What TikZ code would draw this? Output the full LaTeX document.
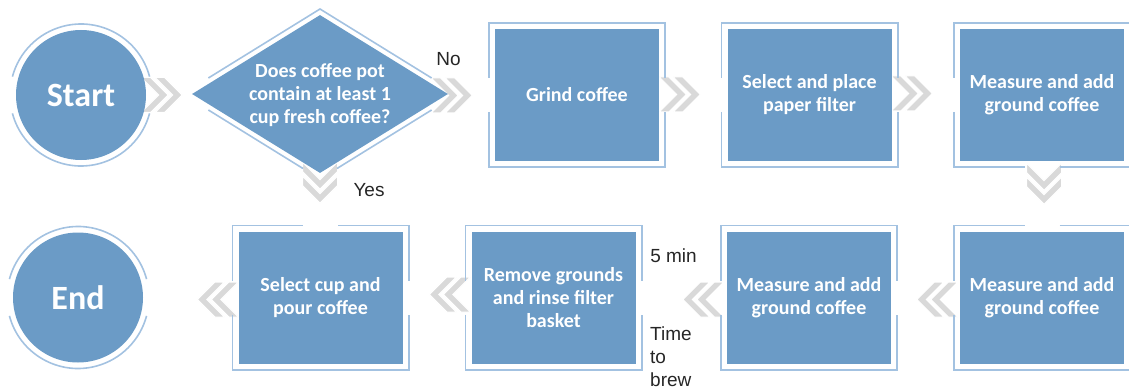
\documentclass[tikz,border=0pt]{standalone}
\usepackage{fontspec}
\setmainfont{Liberation Sans}
\newfontfamily\boxfont{Carlito}
\usetikzlibrary{shapes.geometric,calc}
\pgfdeclarelayer{bg}
\pgfsetlayers{bg,main}

\definecolor{stepblue}{RGB}{107,155,198}
\definecolor{rimblue}{RGB}{163,194,225}
\definecolor{chevgray}{RGB}{217,217,217}
\definecolor{labelgray}{RGB}{38,38,38}

\tikzset{
  stepbox/.style={rectangle, fill=stepblue, minimum width=164pt, minimum height=132pt,
    inner sep=0pt, text width=156pt, align=flush center, text=white,
    font=\boxfont\bfseries\fontsize{20}{23}\selectfont},
  termnode/.style={circle, fill=stepblue, minimum size=130pt, inner sep=0pt, text=white,
    font=\boxfont\bfseries\fontsize{34}{40}\selectfont},
  decision/.style={diamond, fill=stepblue, minimum width=256pt, minimum height=158pt, inner sep=0pt},
  decisiontext/.style={align=flush center, text=white, inner sep=0pt,
    font=\boxfont\bfseries\fontsize{20}{23}\selectfont},
  rim/.style={draw=rimblue, line width=1.6pt},
  chev/.style={fill=chevgray, draw=white, line width=1pt, line join=miter},
  tag/.style={text=labelgray, inner sep=0pt, font=\fontsize{19}{23}\selectfont},
  chevpair/.pic={
    \foreach \dx in {0,14}{
      \path[chev] (\dx,17.5) -- ++(9.5,0) -- ++(17.5,-17.5) -- ++(-17.5,-17.5)
        -- ++(-9.5,0) -- ++(17.5,17.5) -- cycle;
    }
  },
}

% light outer frame of a step box, open at the sides (and optionally top/bottom)
\newcommand\steprim[3]{%
  \ifnum#2=0
    \draw[rim] ([shift={(-6,17)}]#1.west) |- ([shift={(6,6)}]#1.north east) -- ([shift={(6,17)}]#1.east);
  \else
    \draw[rim] ([shift={(-6,17)}]#1.west) |- ([shift={(-17.5,6)}]#1.north);
    \draw[rim] ([shift={(17.5,6)}]#1.north) -| ([shift={(6,17)}]#1.east);
  \fi
  \ifnum#3=0
    \draw[rim] ([shift={(-6,-17)}]#1.west) |- ([shift={(6,-6)}]#1.south east) -- ([shift={(6,-17)}]#1.east);
  \else
    \draw[rim] ([shift={(-6,-17)}]#1.west) |- ([shift={(-17.5,-6)}]#1.south);
    \draw[rim] ([shift={(17.5,-6)}]#1.south) -| ([shift={(6,-17)}]#1.east);
  \fi
}

% ring around a terminal node, open left and right
\newcommand\termrim[1]{%
  \draw[rim] ([shift={(15:71pt)}]#1.center) arc[start angle=15, end angle=165, radius=71pt];
  \draw[rim] ([shift={(195:71pt)}]#1.center) arc[start angle=195, end angle=345, radius=71pt];
}

\begin{document}
\begin{tikzpicture}[x=1pt, y=1pt]
\useasboundingbox (0,0) rectangle (1129,389);

% first row
\node[termnode] (start) at (81,294) {Start};
\node[decision] (dia) at (320,295) {};
\node[decisiontext] (diatext) at (320,294) {Does coffee pot\\contain at least 1\\cup fresh coffee?};
\node[stepbox] (grind) at (577,294) {Grind coffee};
\node[stepbox] (filter) at (809.5,294) {Select and place\\paper filter};
\node[stepbox] (measureA) at (1042,294) {Measure and add\\ground coffee};

% second row
\node[stepbox] (measureB) at (1042,91.5) {Measure and add\\ground coffee};
\node[stepbox] (measureC) at (809,91.5) {Measure and add\\ground coffee};
\node[stepbox] (rinse) at (553.5,91.5) {Remove grounds\\and rinse filter\\basket};
\node[stepbox] (pour) at (320.5,91.5) {Select cup and\\pour coffee};
\node[termnode] (end) at (78,91.5) {End};

% outer frames
\termrim{start}
\termrim{end}
\steprim{grind}{0}{0}
\steprim{filter}{0}{0}
\steprim{measureA}{0}{1}
\steprim{measureB}{1}{0}
\steprim{measureC}{0}{0}
\steprim{rinse}{0}{0}
\steprim{pour}{1}{0}
\draw[rim] ($(dia.center)+(-111.6,16)$) -- ($(dia.center)+(0,85)$) -- ($(dia.center)+(111.6,16)$);
\draw[rim] ($(dia.center)+(-111.6,-16)$) -- ($(dia.center)+(-17,-74.5)$);
\draw[rim] ($(dia.center)+(17,-74.5)$) -- ($(dia.center)+(111.6,-16)$);

% chevron connectors
\begin{pgfonlayer}{bg}
  \pic at ($(start.east)+(-5,0)$) {chevpair};
  \pic at ($(dia.east)+(-17,-1.5)$) {chevpair};
  \pic at ($(grind.east)+(0,0.5)$) {chevpair};
  \pic at ($(filter.east)+(-0.5,1.5)$) {chevpair};
  \pic[rotate=-90] at ($(measureA.south)+(2,-2)$) {chevpair};
  \pic[rotate=-90] at ($(dia.south)+(0,11)$) {chevpair};
  \pic[rotate=180] at ($(measureB.west)+(-2,-2)$) {chevpair};
  \pic[rotate=180] at ($(measureC.west)+(-3,-2)$) {chevpair};
  \pic[rotate=180] at ($(rinse.west)+(-1,3)$) {chevpair};
  \pic[rotate=180] at ($(pour.west)+(0,-2)$) {chevpair};
\end{pgfonlayer}

% branch and timing labels
\node[tag] (nolabel) at (448.5,330) {No};
\node[tag] (yeslabel) at (369,199) {Yes};
\node[tag] (minlabel) at (673.5,133.5) {5 min};
\node[tag, anchor=north west, align=left] (brewlabel) at (650,62) {Time\\to\\brew};
\end{tikzpicture}
\end{document}
